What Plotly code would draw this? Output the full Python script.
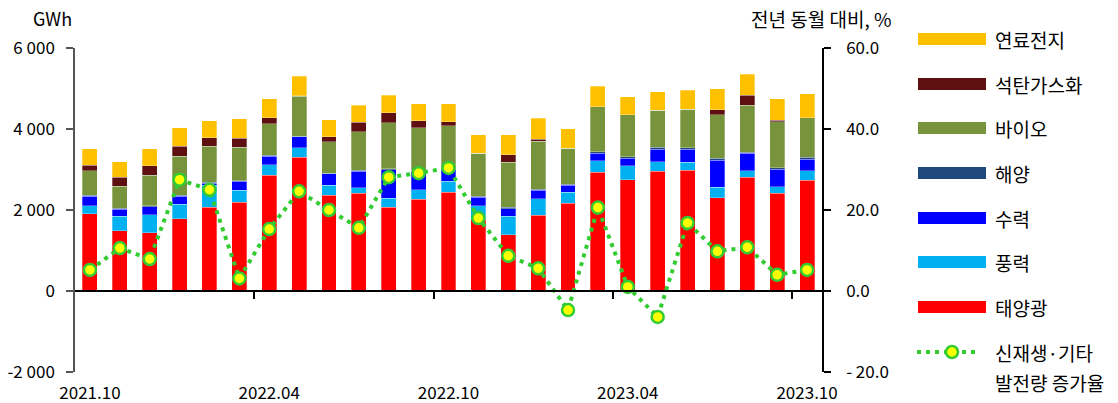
import numpy as np
import plotly.graph_objects as go

# Monthly renewable generation by source (GWh), Oct 2021 - Oct 2023
months = ["2021.10", "2021.11", "2021.12", "2022.01", "2022.02", "2022.03",
          "2022.04", "2022.05", "2022.06", "2022.07", "2022.08", "2022.09",
          "2022.10", "2022.11", "2022.12", "2023.01", "2023.02", "2023.03",
          "2023.04", "2023.05", "2023.06", "2023.07", "2023.08", "2023.09",
          "2023.10"]

solar = [1906, 1493, 1444, 1782, 2063, 2186, 2855, 3300, 2368, 2409, 2063, 2261,
         2434, 1757, 1386, 1865, 2170, 2929, 2747, 2954, 2987, 2302, 2805, 2409, 2739]
wind = [198, 347, 437, 363, 544, 297, 264, 239, 247, 140, 222, 239,
        272, 347, 454, 412, 264, 289, 347, 239, 189, 256, 165, 165, 231]
hydro = [231, 181, 198, 190, 58, 223, 214, 264, 281, 405, 710, 450,
         290, 206, 190, 206, 173, 181, 181, 305, 322, 676, 437, 437, 280]
ocean = [25, 25, 25, 33, 20, 17, 25, 17, 16, 24, 25, 20,
         20, 30, 35, 33, 33, 41, 40, 50, 33, 41, 25, 33, 50]
bio = [610, 536, 751, 965, 887, 825, 767, 990, 776, 949, 1138, 1064,
       1068, 1059, 1120, 1180, 883, 1106, 1041, 915, 957, 1073, 1155, 1139, 982]
coal_gas = [132, 223, 239, 239, 207, 222, 157, 10, 115, 239, 248, 165,
            91, 0, 181, 50, 0, 0, 0, 0, 0, 132, 248, 33, 0]
fuel_cell = [413, 388, 421, 454, 429, 479, 470, 477, 421, 421, 429, 429,
             453, 462, 487, 519, 478, 511, 437, 462, 470, 511, 511, 536, 594]

# Year-on-year growth of renewable & other generation (%)
growth = [5.2, 10.6, 7.9, 27.5, 25.0, 3.1, 15.3, 24.6, 20.0, 15.6, 28.1, 29.1,
          30.4, 18.0, 8.7, 5.6, -4.7, 20.6, 1.0, -6.4, 16.8, 9.8, 10.8, 4.0, 5.2]

left_ticks = [-2000, 0, 2000, 4000, 6000]
left_ticktext = ["-2 000", "0", "2 000", "4 000", "6 000"]
right_ticks = [-20, 0, 20, 40, 60]
right_ticktext = ["- 20.0", "0.0", "20.0", "40.0", "60.0"]
label_months = ["2021.10", "2022.04", "2022.10", "2023.04", "2023.10"]

series = [
    ("태양광", solar, "#FF0000"),
    ("풍력", wind, "#00B0F0"),
    ("수력", hydro, "#0000FF"),
    ("해양", ocean, "#1F497D"),
    ("바이오", bio, "#77933C"),
    ("석탄가스화", coal_gas, "#5E1010"),
    ("연료전지", fuel_cell, "#FFC000"),
]

FONT = "Noto Sans CJK KR"
W, H = 1118, 403
L, R, T, B = 75, 822, 48, 372  # plot area in pixels
x = np.arange(len(months))

fig = go.Figure()
for name, vals, color in series:
    fig.add_trace(go.Bar(
        x=x, y=vals, name=name, width=0.5,
        marker=dict(color=color, line=dict(color="rgba(255,255,255,0.5)", width=0.6)),
        showlegend=False, xaxis="x", yaxis="y",
    ))

fig.add_trace(go.Scatter(
    x=x, y=growth, mode="lines+markers", name="신재생·기타 발전량 증가율",
    line=dict(color="#33CC33", width=4, dash="4px,5px"),
    marker=dict(size=12, color="#FFFF00", line=dict(color="#33CC33", width=2.5)),
    showlegend=False, xaxis="x2", yaxis="y2",
))


def px_x(p):
    return (p - L) / (R - L)


def px_y(p):
    return (B - p) / (B - T)


shapes = []
annotations = []
legend_font = dict(family=FONT, size=19, color="#000")

# Legend: wide colour swatches with labels
legend_rows = [("연료전지", "#FFC000", 39), ("석탄가스화", "#5E1010", 84),
               ("바이오", "#77933C", 128), ("해양", "#1F497D", 173),
               ("수력", "#0000FF", 218), ("풍력", "#00B0F0", 262),
               ("태양광", "#FF0000", 307)]
for label, color, yc in legend_rows:
    shapes.append(dict(type="rect", xref="paper", yref="paper",
                       x0=px_x(918), x1=px_x(986), y0=px_y(yc + 6), y1=px_y(yc - 6),
                       fillcolor=color, line=dict(width=0)))
    annotations.append(dict(text=label, xref="paper", yref="paper",
                            x=px_x(993), y=px_y(yc), xanchor="left", yanchor="middle",
                            showarrow=False, font=legend_font))

# Legend entry for the growth line
shapes.append(dict(type="line", xref="paper", yref="paper",
                   x0=px_x(917), x1=px_x(980), y0=px_y(352), y1=px_y(352),
                   line=dict(color="#33CC33", width=4, dash="4px,5px")))
shapes.append(dict(type="circle", xref="paper", yref="paper",
                   x0=px_x(946), x1=px_x(958), y0=px_y(358), y1=px_y(346),
                   fillcolor="#FFFF00", line=dict(color="#33CC33", width=2.5)))
annotations.append(dict(text="신재생·기타", xref="paper", yref="paper",
                        x=px_x(993), y=px_y(352), xanchor="left", yanchor="middle",
                        showarrow=False, font=legend_font))
annotations.append(dict(text="발전량 증가율", xref="paper", yref="paper",
                        x=px_x(993), y=px_y(382), xanchor="left", yanchor="middle",
                        showarrow=False, font=legend_font))

# Axis unit titles
annotations.append(dict(text="GWh", xref="paper", yref="paper",
                        x=px_x(52), y=px_y(18), xanchor="center", yanchor="middle",
                        showarrow=False, font=dict(family=FONT, size=18, color="#000")))
annotations.append(dict(text="전년 동월 대비, %", xref="paper", yref="paper",
                        x=px_x(893), y=px_y(18), xanchor="right", yanchor="middle",
                        showarrow=False, font=dict(family=FONT, size=19, color="#000")))

tick_font = dict(family=FONT, size=17, color="#000")

fig.update_layout(
    width=W, height=H,
    margin=dict(l=L, r=W - R, t=T, b=H - B, pad=0, autoexpand=False),
    paper_bgcolor="white", plot_bgcolor="white",
    barmode="stack", bargap=0.5,
    showlegend=False,
    shapes=shapes, annotations=annotations,
    xaxis=dict(
        range=[-0.5, len(months) - 0.5], tickvals=[months.index(m) for m in label_months],
        ticktext=label_months, ticks="outside", ticklen=6, tickcolor="rgba(0,0,0,0)",
        showline=False, showgrid=False, zeroline=False, tickfont=tick_font,
        automargin=False,
    ),
    xaxis2=dict(
        range=[-0.5, len(months) - 0.5], overlaying="x", anchor="free", position=0.25,
        tickvals=[5.5, 11.5, 17.5, 23.5], ticks="outside", ticklen=7, tickwidth=1.5,
        tickcolor="#000", showticklabels=False, showline=True, linecolor="#000",
        linewidth=1.5, showgrid=False, zeroline=False, automargin=False,
    ),
    yaxis=dict(
        range=[-2000, 6000], tickvals=left_ticks, ticktext=left_ticktext,
        ticks="outside", ticklen=7, tickwidth=1.5, tickcolor="#555",
        showline=True, linecolor="#555", linewidth=1.5, showgrid=False,
        zeroline=False, tickfont=tick_font, ticklabelstandoff=8, automargin=False,
    ),
    yaxis2=dict(
        range=[-20, 60], tickvals=right_ticks, ticktext=right_ticktext,
        overlaying="y", side="right", anchor="x2",
        ticks="outside", ticklen=7, tickwidth=1.5, tickcolor="#000",
        showline=True, linecolor="#000", linewidth=1.5, showgrid=False,
        zeroline=False, tickfont=tick_font, ticklabelstandoff=12, automargin=False,
    ),
)

fig.write_html("out.html")
